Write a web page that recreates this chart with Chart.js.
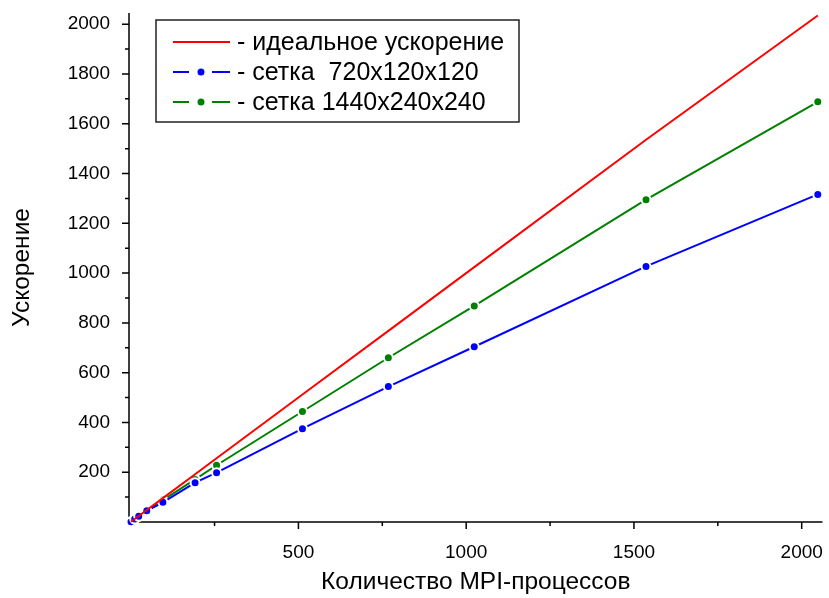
<!DOCTYPE html>
<html lang="ru">
<head>
<meta charset="UTF-8">
<title>Ускорение</title>
<script src="https://cdn.jsdelivr.net/npm/chart.js"></script>
<style>
  html, body { margin: 0; padding: 0; background: #fff; }
  #wrap { width: 829px; height: 598px; }
</style>
</head>
<body>
<div id="wrap"><canvas id="speedup" width="829" height="598"></canvas></div>
<script>
// число MPI-процессов и ускорение для двух сеток
const procs    = [1, 12, 24, 48, 96, 192, 256, 512, 768, 1024, 1536, 2048];
const ideal    = [1, 12, 24, 48, 96, 192, 256, 512, 768, 1024, 1536, 2035];
const grid720  = [1, 12, 23, 45, 79, 158, 198, 375, 544, 704, 1027, 1316];
const grid1440 = [1, 12, 24, 47, 88, 171, 228, 444, 660, 868, 1295, 1688];

const seriesLabels = ['- идеальное ускорение', '- сетка  720x120x120', '- сетка 1440x240x240'];
const xTickLabels = [500, 1000, 1500, 2000];
const yTickLabels = [200, 400, 600, 800, 1000, 1200, 1400, 1600, 1800, 2000];

const FONT = '"Liberation Sans", Arial, sans-serif';

const toPoints = ys => procs.map((p, i) => ({x: p, y: ys[i]}));

// большие засечки с подписями плюс малые посередине между ними
const withMinor = majors => {
    const out = [];
    let prev = 0;
    majors.forEach(v => {
        out.push({value: (prev + v) / 2}, {value: v});
        prev = v;
    });
    return out;
};

// без автоматических отступов под крайние подписи
const noPad = s => {
    s.paddingTop = s.paddingBottom = s.paddingLeft = s.paddingRight = 0;
};

// оси в стиле Origin: линии и засечки наружу
const axesPlugin = {
    id: 'axes',
    beforeDatasetsDraw(chart) {
        const {ctx, chartArea: a, scales: {x, y}} = chart;
        ctx.save();
        ctx.strokeStyle = '#000';
        ctx.lineWidth = 1.5;
        ctx.beginPath();
        ctx.moveTo(a.left, a.top);
        ctx.lineTo(a.left, a.bottom);
        ctx.lineTo(a.right, a.bottom);
        ctx.stroke();

        ctx.beginPath();
        y.ticks.forEach(t => {
            const py = y.getPixelForValue(t.value);
            const len = yTickLabels.includes(t.value) ? 7 : 4;
            ctx.moveTo(a.left, py);
            ctx.lineTo(a.left - len, py);
        });
        x.ticks.forEach(t => {
            const px = x.getPixelForValue(t.value);
            const len = xTickLabels.includes(t.value) ? 7 : 4;
            ctx.moveTo(px, a.bottom);
            ctx.lineTo(px, a.bottom + len);
        });
        ctx.stroke();
        ctx.restore();
    }
};

// легенда в рамке внутри области графика
const boxLegend = {
    id: 'boxLegend',
    afterDraw(chart, args, o) {
        const {ctx} = chart;
        ctx.save();
        ctx.fillStyle = '#fff';
        ctx.fillRect(o.left, o.top, o.width, o.height);
        ctx.strokeStyle = '#222';
        ctx.lineWidth = 1.5;
        ctx.strokeRect(o.left, o.top, o.width, o.height);

        ctx.font = o.fontSize + 'px ' + FONT;
        ctx.textBaseline = 'middle';
        chart.data.datasets.forEach((ds, i) => {
            const cy = o.top + o.firstRow + i * o.rowGap;
            const x0 = o.left + o.sampleX;
            ctx.strokeStyle = ds.borderColor;
            ctx.lineWidth = 2;
            ctx.beginPath();
            if (ds.pointRadius > 0) {
                ctx.moveTo(x0, cy); ctx.lineTo(x0 + 16, cy);
                ctx.moveTo(x0 + 39, cy); ctx.lineTo(x0 + 57, cy);
                ctx.stroke();
                ctx.fillStyle = ds.borderColor;
                ctx.beginPath();
                ctx.arc(x0 + 28, cy, 3.5, 0, Math.PI * 2);
                ctx.fill();
            } else {
                ctx.moveTo(x0, cy); ctx.lineTo(x0 + 57, cy);
                ctx.stroke();
            }
            ctx.fillStyle = '#000';
            ctx.fillText(ds.label, x0 + o.textGap, cy + 1);
        });
        ctx.restore();
    }
};

const marked = color => ({
    borderColor: color,
    backgroundColor: color,
    borderWidth: 2,
    pointRadius: 4.5,
    pointBorderColor: '#fff',
    pointBorderWidth: 2,
    pointBackgroundColor: color,
    clip: false
});

new Chart(document.getElementById('speedup'), {
    type: 'line',
    data: {
        datasets: [
            {label: seriesLabels[0], data: toPoints(ideal), borderColor: '#ff0000',
             borderWidth: 2, pointRadius: 0, clip: false},
            {label: seriesLabels[1], data: toPoints(grid720), ...marked('#0000ff')},
            {label: seriesLabels[2], data: toPoints(grid1440), ...marked('#008000')}
        ]
    },
    options: {
        responsive: false,
        animation: false,
        devicePixelRatio: 1,
        layout: {padding: {top: 13, right: 5, left: 0, bottom: 0}},
        plugins: {
            legend: {display: false},
            tooltip: {enabled: false},
            boxLegend: {left: 156, top: 20, width: 363, height: 102,
                        sampleX: 17, textGap: 64, firstRow: 22, rowGap: 30, fontSize: 25}
        },
        scales: {
            x: {
                type: 'linear',
                min: -5, max: 2062,
                grid: {display: false, drawTicks: false},
                border: {display: false},
                afterBuildTicks: s => { s.ticks = withMinor(xTickLabels); },
                ticks: {
                    autoSkip: false, maxRotation: 0, padding: 19,
                    color: '#000', font: {family: FONT, size: 19},
                    callback: v => xTickLabels.includes(v) ? String(v) : ''
                },
                title: {display: true, text: 'Количество MPI-процессов', color: '#000',
                        font: {family: FONT, size: 24.5}, padding: {top: 0, bottom: 1}},
                afterFit: s => { s.height = 76; noPad(s); }
            },
            y: {
                min: 0, max: 2045,
                grid: {display: false, drawTicks: false},
                border: {display: false},
                afterBuildTicks: s => { s.ticks = withMinor(yTickLabels); },
                ticks: {
                    autoSkip: false, padding: 19,
                    color: '#000', font: {family: FONT, size: 19},
                    callback: v => yTickLabels.includes(v) ? String(v) : ''
                },
                title: {display: true, text: 'Ускорение', color: '#000',
                        font: {family: FONT, size: 24.5}, padding: {top: 8, bottom: 0}},
                afterFit: s => { s.width = 129; noPad(s); }
            }
        }
    },
    plugins: [axesPlugin, boxLegend]
});
</script>
</body>
</html>
